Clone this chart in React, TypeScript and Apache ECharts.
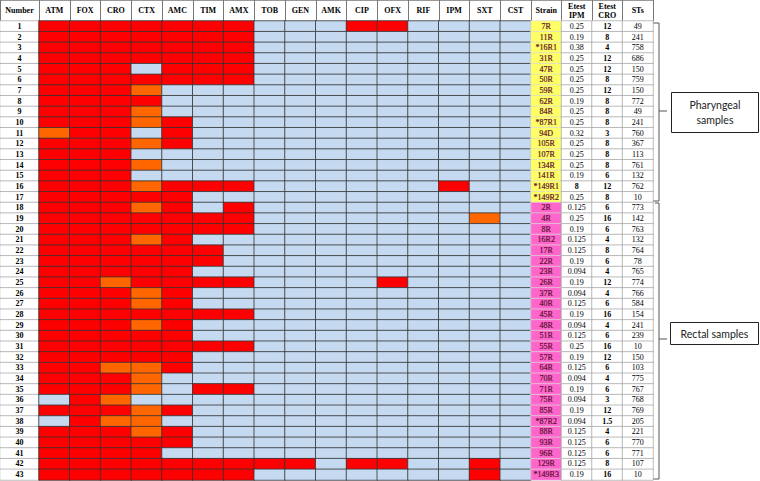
import React, { useEffect, useRef } from "react";
import * as echarts from "echarts";

const antibiotics = ["ATM", "FOX", "CRO", "CTX", "AMC", "TIM", "AMX", "TOB", "GEN", "AMK", "CIP", "OFX", "RIF", "IPM", "SXT", "CST"];
const rowNumbers = ["1", "2", "3", "4", "5", "6", "7", "8", "9", "10", "11", "12", "13", "14", "15", "16", "17", "18", "19", "20", "21", "22", "23", "24", "25", "26", "27", "28", "29", "30", "31", "32", "33", "34", "35", "36", "37", "38", "39", "40", "41", "42", "43"];
// R = resistant (red), I = intermediate (orange), S = susceptible (light blue)
const profiles = [
  "RRRRRRRSSSRRSSSS",
  "RRRRRRRSSSSSSSSS",
  "RRRRRRRSSSSSSSSS",
  "RRRRRRRSSSSSSSSS",
  "RRRSRRRSSSSSSSSS",
  "RRRRRRRSSSSSSSSS",
  "RRRISSSSSSSSSSSS",
  "RRRRSSSSSSSSSSSS",
  "RRRISSSSSSSSSSSS",
  "RRRIRSSSSSSSSSSS",
  "IRRSRSSSSSSSSSSS",
  "RRRIRSSSSSSSSSSS",
  "RRRSSSSSSSSSSSSS",
  "RRRISSSSSSSSSSSS",
  "RRRSSSSSSSSSSSSS",
  "RRRIRRRSSSSSSRSS",
  "RRRRRSSSSSSSSSSS",
  "RRRIRSRSSSSSSSSS",
  "RRRRRRRSSSSSSSIS",
  "RRRRRRRSSSSSSSSS",
  "RRRIRSSSSSSSSSSS",
  "RRRRRRSSSSSSSSSS",
  "RRRRRRSSSSSSSSSS",
  "RRRRRSSSSSSSSSSS",
  "RRIRRRRSSSSRSSSS",
  "RRRIRSSSSSSSSSSS",
  "RRRIRSSSSSSSSSSS",
  "RRRRRRRSSSSSSSSS",
  "RRRIRSSSSSSSSSSS",
  "RRRRRSSSSSSSSSSS",
  "RRRRRRRSSSSSSSSS",
  "RRRRRSSSSSSSSSSS",
  "RRIIRSSSSSSSSSSS",
  "RRRISSSSSSSSSSSS",
  "RRRISRRSSSSSSSSS",
  "SRISSSSSSSSSSSSS",
  "RRRIRSSSSSSSSSSS",
  "SRIISSSSSSSSSSSS",
  "RRRIRSSSSSSSSSSS",
  "RRRRRSSSSSSSSSSS",
  "RRRRSSSSSSSSSSSS",
  "RRRRRRRRRSRRSSRS",
  "RRRRRRRSSSSSSSRS",
];
const strains = ["7R", "11R", "*16R1", "31R", "47R", "50R", "59R", "62R", "84R", "*87R1", "94D", "105R", "107R", "134R", "141R", "*149R1", "*149R2", "2R", "4R", "8R", "16R2", "17R", "22R", "23R", "26R", "37R", "40R", "45R", "48R", "51R", "55R", "57R", "64R", "70R", "71R", "75R", "85R", "*87R2", "88R", "93R", "96R", "129R", "*149R3"];
const sampleSite = ["P", "P", "P", "P", "P", "P", "P", "P", "P", "P", "P", "P", "P", "P", "P", "P", "P", "Re", "Re", "Re", "Re", "Re", "Re", "Re", "Re", "Re", "Re", "Re", "Re", "Re", "Re", "Re", "Re", "Re", "Re", "Re", "Re", "Re", "Re", "Re", "Re", "Re", "Re"];
const etestIPM = ["0.25", "0.19", "0.38", "0.25", "0.25", "0.25", "0.25", "0.19", "0.25", "0.25", "0.32", "0.25", "0.25", "0.25", "0.19", "8", "0.25", "0.125", "0.25", "0.19", "0.125", "0.125", "0.19", "0.094", "0.19", "0.094", "0.125", "0.19", "0.094", "0.125", "0.25", "0.19", "0.125", "0.094", "0.19", "0.094", "0.19", "0.094", "0.125", "0.125", "0.125", "0.125", "0.19"];
const etestIPMBold = ["8"];
const etestCRO = ["12", "8", "4", "12", "12", "8", "12", "8", "8", "8", "3", "8", "8", "8", "6", "12", "8", "6", "16", "6", "4", "8", "6", "4", "12", "4", "6", "16", "4", "6", "16", "12", "6", "4", "6", "3", "12", "1.5", "4", "6", "6", "8", "16"];
const sequenceTypes = ["49", "241", "758", "686", "150", "759", "150", "772", "49", "241", "760", "367", "113", "761", "132", "762", "10", "773", "142", "763", "132", "764", "78", "765", "774", "766", "584", "154", "241", "239", "10", "150", "103", "775", "767", "768", "769", "205", "221", "770", "771", "107", "10"];
const infoColumns = ["Strain", "Etest\nIPM", "Etest\nCRO", "STs"];
const groupLabels = ["Pharyngeal\nsamples", "Rectal samples"];

const SERIF = "'Liberation Serif', 'Times New Roman', serif";
const codeOf: Record<string, number> = { S: 0, I: 1, R: 2 };

function xAxis(gridIndex: number, data: string[]) {
  return {
    type: "category",
    gridIndex,
    data,
    position: "top",
    axisLine: { show: true, lineStyle: { color: "#777", width: 1 } },
    axisTick: { show: true, length: 21, interval: 0, lineStyle: { color: "#777", width: 1 } },
    axisLabel: {
      interval: 0,
      margin: 10.5,
      verticalAlign: "middle",
      fontFamily: SERIF,
      fontWeight: "bold",
      fontSize: 8,
      lineHeight: 9,
      color: "#000",
    },
    splitLine: { show: false },
  };
}

function yAxis(gridIndex: number) {
  return { type: "category", gridIndex, data: rowNumbers, inverse: true, show: false };
}

export default function App() {
  const ref = useRef<HTMLDivElement>(null);

  useEffect(() => {
    document.body.style.margin = "0";
    if (!ref.current) return;
    const chart = echarts.init(ref.current, null, { renderer: "svg" });

    const numberData = rowNumbers.map((_, r) => [0, r, 3]);
    const abxData: number[][] = [];
    profiles.forEach((p, r) => {
      for (let c = 0; c < antibiotics.length; c++) abxData.push([c, r, codeOf[p[c]]]);
    });
    const strainData = strains.map((_, r) => [0, r, sampleSite[r] === "P" ? 4 : 5]);
    const ipmData = etestIPM.map((_, r) => [1, r, 3]);
    const croData = etestCRO.map((_, r) => [2, r, 3]);
    const stData = sequenceTypes.map((_, r) => [3, r, 3]);

    const baseLabel = { show: true, fontFamily: SERIF, fontSize: 8, color: "#000", textBorderWidth: 0 };
    const infoBorder = { borderColor: "#a0a0a0", borderWidth: 0.7 };

    const option: any = {
      animation: false,
      backgroundColor: "#fff",
      grid: [
        { left: 0, top: 21, width: 39, height: 459 },
        { left: 39, top: 21, width: 492, height: 459 },
        { left: 531, top: 21, width: 122, height: 459 },
      ],
      xAxis: [xAxis(0, ["Number"]), xAxis(1, antibiotics), xAxis(2, infoColumns)],
      yAxis: [yAxis(0), yAxis(1), yAxis(2)],
      visualMap: {
        type: "piecewise",
        show: false,
        dimension: 2,
        pieces: [
          { value: 0, color: "#C5D9F1" },
          { value: 1, color: "#FF6600" },
          { value: 2, color: "#FF0000" },
          { value: 3, color: "#FFFFFF" },
          { value: 4, color: "#FFFF66" },
          { value: 5, color: "#FF66CC" },
        ],
      },
      series: [
        {
          type: "heatmap",
          xAxisIndex: 0,
          yAxisIndex: 0,
          data: numberData,
          itemStyle: infoBorder,
          label: { ...baseLabel, fontWeight: "bold", formatter: (p: any) => rowNumbers[p.value[1]] },
        },
        {
          type: "heatmap",
          xAxisIndex: 1,
          yAxisIndex: 1,
          data: abxData,
          itemStyle: { borderColor: "#333", borderWidth: 0.8 },
        },
        {
          type: "heatmap",
          xAxisIndex: 2,
          yAxisIndex: 2,
          data: strainData,
          itemStyle: { borderColor: "#d8d8d8", borderWidth: 0.7 },
          label: {
            show: true,
            fontFamily: SERIF,
            fontSize: 8,
            color: "#5e1030",
            textBorderColor: "#5e1030",
            textBorderWidth: 0.2,
            formatter: (p: any) => strains[p.value[1]],
          },
        },
        {
          type: "heatmap",
          xAxisIndex: 2,
          yAxisIndex: 2,
          data: ipmData,
          itemStyle: infoBorder,
          label: {
            ...baseLabel,
            formatter: (p: any) => {
              const v = etestIPM[p.value[1]];
              return etestIPMBold.includes(v) ? "{b|" + v + "}" : v;
            },
            rich: { b: { fontFamily: SERIF, fontSize: 8, fontWeight: "bold", color: "#000" } },
          },
        },
        {
          type: "heatmap",
          xAxisIndex: 2,
          yAxisIndex: 2,
          data: croData,
          itemStyle: infoBorder,
          label: { ...baseLabel, fontWeight: "bold", formatter: (p: any) => etestCRO[p.value[1]] },
        },
        {
          type: "heatmap",
          xAxisIndex: 2,
          yAxisIndex: 2,
          data: stData,
          itemStyle: infoBorder,
          label: { ...baseLabel, formatter: (p: any) => sequenceTypes[p.value[1]] },
        },
      ],
      graphic: [
        { type: "line", shape: { x1: 0, y1: 0.5, x2: 653, y2: 0.5 }, style: { stroke: "#999", lineWidth: 1 } },
        // pharyngeal bracket
        { type: "polyline", shape: { points: [[653, 23], [659, 23], [659, 201], [653, 201]] }, style: { stroke: "#555", lineWidth: 1, fill: "none" } },
        { type: "line", shape: { x1: 659, y1: 111, x2: 667, y2: 111 }, style: { stroke: "#555", lineWidth: 1 } },
        // rectal bracket
        { type: "polyline", shape: { points: [[655, 203], [659, 203], [659, 479], [653, 479]] }, style: { stroke: "#555", lineWidth: 1, fill: "none" } },
        { type: "line", shape: { x1: 659, y1: 339, x2: 667, y2: 339 }, style: { stroke: "#555", lineWidth: 1 } },
        { type: "rect", shape: { x: 671.5, y: 92.5, width: 87, height: 40 }, style: { fill: "#fff", stroke: "#222", lineWidth: 1 } },
        {
          type: "text",
          x: 715,
          y: 112.5,
          style: { text: groupLabels[0], fontFamily: "Lato", fontSize: 10.5, lineHeight: 15, fill: "#222", align: "center", verticalAlign: "middle" },
        },
        { type: "rect", shape: { x: 670.5, y: 322.5, width: 88, height: 22 }, style: { fill: "#fff", stroke: "#222", lineWidth: 1 } },
        {
          type: "text",
          x: 714.5,
          y: 333.5,
          style: { text: groupLabels[1], fontFamily: "Lato", fontSize: 10.5, fill: "#222", align: "center", verticalAlign: "middle" },
        },
      ],
    };

    chart.setOption(option);
    return () => chart.dispose();
  }, []);

  return <div ref={ref} style={{ width: 760, height: 481 }} />;
}
